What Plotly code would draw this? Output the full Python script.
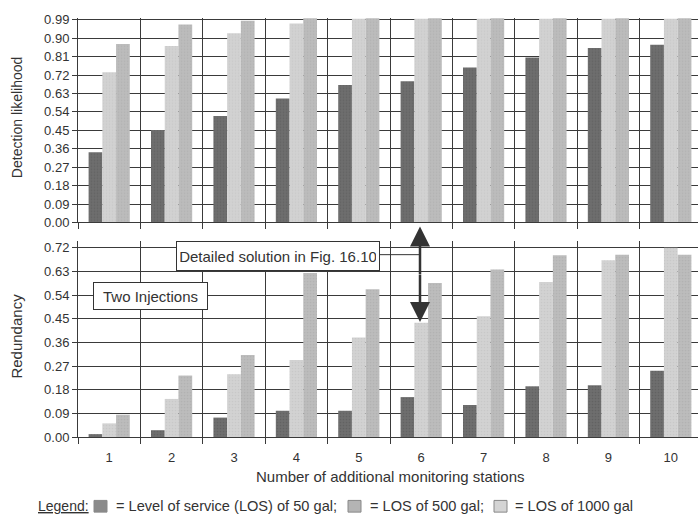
import plotly.graph_objects as go

stations = [1, 2, 3, 4, 5, 6, 7, 8, 9, 10]
tick_labels = ["1", "2", "3", "4", "5", "6", "7", "8", "9", "10"]

# Detection likelihood
det_50 = [0.343, 0.452, 0.520, 0.605, 0.671, 0.690, 0.757, 0.805, 0.852, 0.868]
det_500 = [0.733, 0.862, 0.924, 0.971, 0.995, 0.995, 0.995, 0.995, 0.995, 0.995]
det_1000 = [0.871, 0.967, 0.985, 0.997, 0.997, 0.997, 0.997, 0.997, 0.997, 0.997]

# Redundancy
red_50 = [0.011, 0.026, 0.074, 0.100, 0.100, 0.152, 0.122, 0.193, 0.197, 0.252]
red_500 = [0.052, 0.145, 0.239, 0.293, 0.379, 0.435, 0.460, 0.590, 0.673, 0.720]
red_1000 = [0.085, 0.234, 0.312, 0.624, 0.562, 0.586, 0.638, 0.692, 0.694, 0.694]

y_ticks_top = [0.00, 0.09, 0.18, 0.27, 0.36, 0.45, 0.54, 0.63, 0.72, 0.81, 0.90, 0.99]
y_ticks_bot = [0.00, 0.09, 0.18, 0.27, 0.36, 0.45, 0.54, 0.63, 0.72]

series_names = ["Level of service (LOS) of 50 gal", "LOS of 500 gal", "LOS of 1000 gal"]
legend_labels = ["= Level of service (LOS) of 50 gal;", "= LOS of 500 gal;", "= LOS of 1000 gal"]
colors = ["#6e6e6e", "#d2d2d2", "#bcbcbc"]
pat_fg = ["#555555", "#bdbdbd", "#a8a8a8"]
legend_sq_colors = ["#8a8a8a", "#b4b4b4", "#d4d4d4"]

W, H = 698, 525
def px_x(p):
    return p / W
def px_y(p):
    return (H - p) / H

fig = go.Figure()

for i, (top, bot) in enumerate([(det_50, red_50), (det_500, red_500), (det_1000, red_1000)]):
    fig.add_trace(go.Bar(x=stations, y=top, name=series_names[i], marker_color=colors[i],
                         marker_line_width=0,
                         marker_pattern=dict(shape=".", size=3, solidity=0.25, fgcolor=pat_fg[i]),
                         xaxis="x", yaxis="y", showlegend=False))
    fig.add_trace(go.Bar(x=stations, y=bot, name=series_names[i], marker_color=colors[i],
                         marker_line_width=0,
                         marker_pattern=dict(shape=".", size=3, solidity=0.25, fgcolor=pat_fg[i]),
                         xaxis="x2", yaxis="y2", showlegend=False))

font = "Liberation Sans, Arial, sans-serif"
grid = "#3a3a3a"
txt = "#333333"
xr = [0.5, 0.5 + 620 / 62.4]

common_x = dict(range=xr, domain=[px_x(78), 1], showgrid=False, zeroline=False,
                tickmode="array", tickvals=stations, ticktext=tick_labels,
                ticks="outside", ticklen=8, tickcolor="rgba(0,0,0,0)",
                minor=dict(tick0=0.5, dtick=1, showgrid=True, gridcolor=grid, gridwidth=1,
                           ticks="outside", ticklen=6, tickcolor=grid),
                showline=True, linecolor=grid, linewidth=1,
                tickfont=dict(size=13, color=txt, family=font))

common_y = dict(showgrid=True, gridcolor=grid, gridwidth=1, zeroline=False,
                ticks="outside", ticklen=5, tickcolor=grid, showline=True, linecolor=grid,
                tickmode="array", tickfont=dict(size=13, color=txt, family=font))

fig.update_layout(
    width=W, height=H,
    margin=dict(l=0, r=0, t=0, b=0),
    paper_bgcolor="white", plot_bgcolor="white",
    barmode="group", bargap=0.34, bargroupgap=0,
    font=dict(family=font, color=txt),
    xaxis=dict(**common_x, anchor="y", showticklabels=False),
    xaxis2=dict(**common_x, anchor="y2"),
    yaxis=dict(**common_y, domain=[px_y(223), px_y(13)], range=[0, 1.0],
               tickvals=y_ticks_top, ticktext=[f"{v:.2f}" for v in y_ticks_top]),
    yaxis2=dict(**common_y, domain=[px_y(443), px_y(242)], range=[0, 0.746],
                tickvals=y_ticks_bot, ticktext=[f"{v:.2f}" for v in y_ticks_bot]),
)

def note(text, x, y, size=15, **kw):
    d = dict(text=text, x=px_x(x), y=px_y(y), xref="paper", yref="paper",
             xanchor="center", yanchor="middle", showarrow=False,
             font=dict(size=size, color=txt, family=font))
    d.update(kw)
    return d

ann = []
ann.append(note("Detection likelihood", 17, 116, size=14, textangle=-90))
ann.append(note("Redundancy", 17, 340, textangle=-90))
ann.append(note("Number of additional monitoring stations", 390, 483))
ann.append(note("Detailed solution in Fig. 16.10", 278, 257, bgcolor="white",
                bordercolor="#333", borderwidth=1, borderpad=3, width=196, height=22))
ann.append(note("Two Injections", 150.5, 298, bgcolor="white",
                bordercolor="#333", borderwidth=1, borderpad=3, width=107, height=20))
# double arrow
for tip in (227, 325):
    ann.append(dict(text="", x=px_x(420), y=px_y(tip), xref="paper", yref="paper",
                    ax=0, ay=276 - tip, axref="pixel", ayref="pixel", showarrow=True,
                    arrowhead=2, arrowsize=1.6, arrowwidth=2.5, arrowcolor="#333"))
# legend line
ann.append(note("<u>Legend:</u>", 36, 514, size=14, xanchor="left"))
for lbl, lx in zip(legend_labels, [114, 368, 513]):
    ann.append(note(lbl, lx, 514, size=14.6, xanchor="left"))
fig.update_layout(annotations=ann)

for c, sx in zip(legend_sq_colors, [94, 348, 494]):
    fig.add_shape(type="rect", xref="paper", yref="paper", x0=px_x(sx), x1=px_x(sx + 13),
                  y0=px_y(520), y1=px_y(508), fillcolor=c, line=dict(color="#888", width=1))

fig.add_shape(type="line", xref="paper", yref="paper", x0=px_x(380), x1=px_x(420),
              y0=px_y(256), y1=px_y(256), line=dict(color="#333", width=1))

fig.write_html("out.html", config={"displayModeBar": False},
               post_script="document.body.style.margin='0';document.body.style.overflow='hidden';")
